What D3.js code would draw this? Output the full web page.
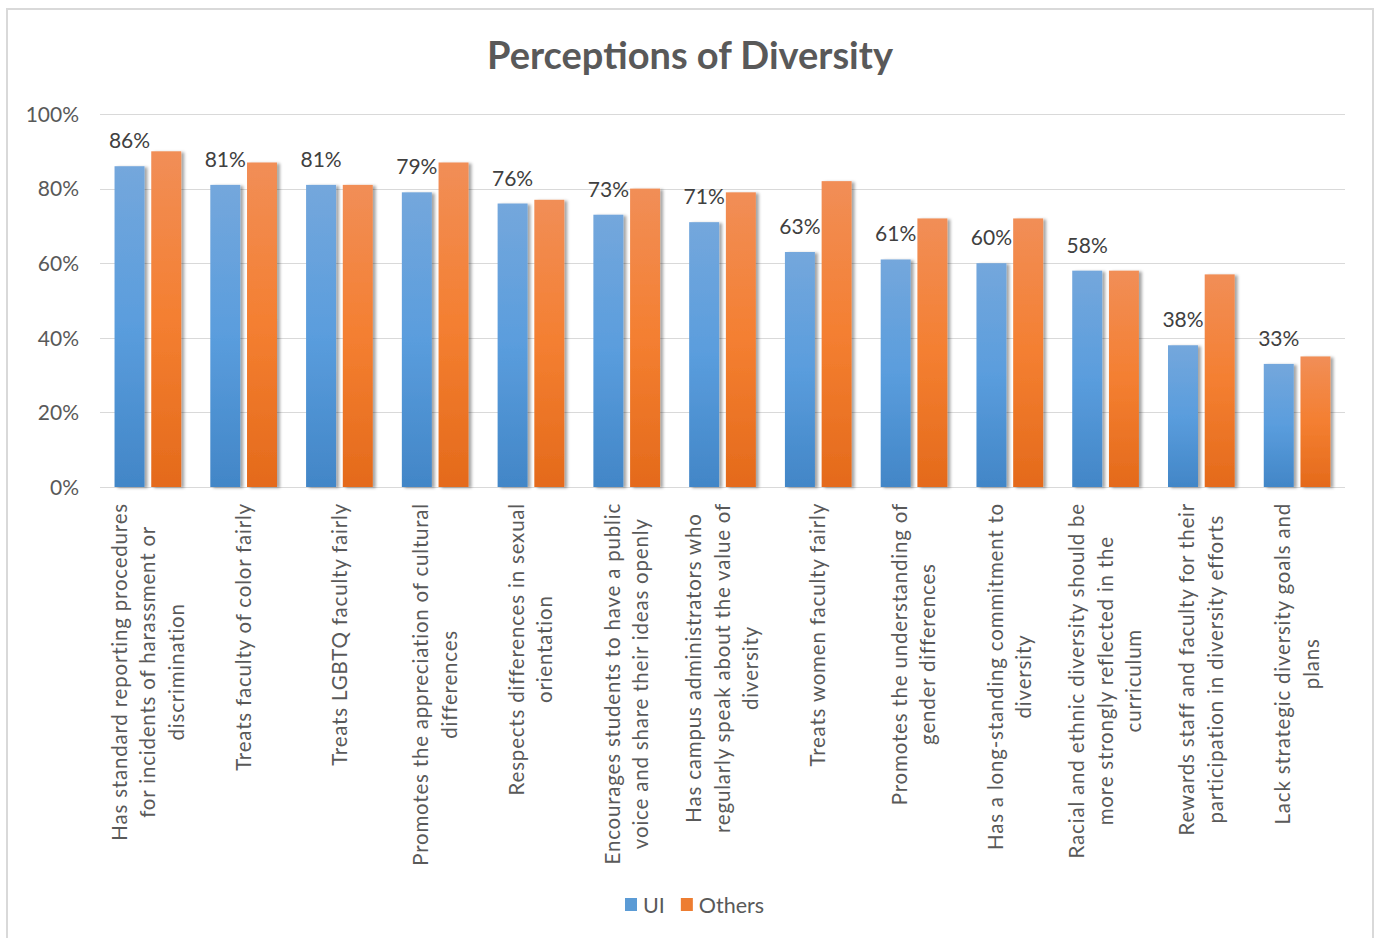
<!DOCTYPE html>
<html>
<head>
<meta charset="utf-8">
<script src="https://cdn.jsdelivr.net/npm/d3@7"></script>
<style>
  html, body { margin: 0; padding: 0; background: #ffffff; }
  svg { display: block; }
  text { font-family: Lato, "Open Sans", sans-serif; }
</style>
</head>
<body>
<svg id="chart" width="1375" height="938"></svg>
<script>
// Survey items (line breaks as wrapped under the axis)
const categories = [
  "Has standard reporting procedures\nfor incidents of harassment or\ndiscrimination",
  "Treats faculty of color fairly",
  "Treats LGBTQ faculty fairly",
  "Promotes the appreciation of cultural\ndifferences",
  "Respects differences in sexual\norientation",
  "Encourages students to have a public\nvoice and share their ideas openly",
  "Has campus administrators who\nregularly speak about the value of\ndiversity",
  "Treats women faculty fairly",
  "Promotes the understanding of\ngender differences",
  "Has a long-standing commitment to\ndiversity",
  "Racial and ethnic diversity should be\nmore strongly reflected in the\ncurriculum",
  "Rewards staff and faculty for their\nparticipation in diversity efforts",
  "Lack strategic diversity goals and\nplans"
];
const seriesNames = ["UI", "Others"];
const uiValues     = [86, 81, 81, 79, 76, 73, 71, 63, 61, 60, 58, 38, 33];
const othersValues = [90, 87, 81, 87, 77, 80, 79, 82, 72, 72, 58, 57, 35];
const yTicks = [0, 20, 40, 60, 80, 100];
const chartTitle = "Perceptions of Diversity";

const svg = d3.select("#chart");

// outer chart border
svg.append("rect")
  .attr("x", 7).attr("y", 9).attr("width", 1366).attr("height", 940)
  .attr("fill", "#ffffff").attr("stroke", "#d9d9d9").attr("stroke-width", 2);

const plot = { left: 100, right: 1345, top: 114, bottom: 487 };

const x0 = d3.scaleBand().domain(d3.range(categories.length))
  .range([plot.left, plot.right]).paddingInner(0).paddingOuter(0);
const x1 = d3.scaleBand().domain(seriesNames)
  .range([0, x0.bandwidth()]).paddingInner(0.183).paddingOuter(0.396);
const y = d3.scaleLinear().domain([0, 100]).range([plot.bottom, plot.top]);

const defs = svg.append("defs");
function grad(id, stops) {
  const g = defs.append("linearGradient").attr("id", id)
    .attr("x1", 0).attr("y1", 0).attr("x2", 0).attr("y2", 1);
  stops.forEach(([o, c]) => g.append("stop").attr("offset", o).attr("stop-color", c));
}
grad("gradUI", [[0, "#74a7dc"], [0.5, "#5a9ddd"], [1, "#4286c7"]]);
grad("gradOthers", [[0, "#f18e57"], [0.5, "#f47f31"], [1, "#e46a1b"]]);
const shadow = defs.append("filter").attr("id", "barShadow")
  .attr("x", "-20%").attr("y", "-5%").attr("width", "150%").attr("height", "110%");
shadow.append("feDropShadow").attr("dx", 3).attr("dy", 1)
  .attr("stdDeviation", 1.4).attr("flood-color", "#000").attr("flood-opacity", 0.35);

// gridlines
svg.append("g").selectAll("line").data(yTicks).join("line")
  .attr("x1", plot.left).attr("x2", plot.right)
  .attr("y1", d => Math.round(y(d)) + 0.5).attr("y2", d => Math.round(y(d)) + 0.5)
  .attr("stroke", "#d9d9d9").attr("stroke-width", 1.2);

// y axis labels
const yAxis = d3.axisLeft(y).tickValues(yTicks).tickSize(0).tickPadding(0)
  .tickFormat(d => d + "%");
const yg = svg.append("g").attr("transform", "translate(79,0)").call(yAxis);
yg.select(".domain").remove();
yg.selectAll("text").attr("font-size", 21).attr("fill", "#595959")
  .attr("font-family", "Lato, sans-serif").attr("dy", "0.35em");

// bars
const seriesData = [uiValues, othersValues];
const fills = ["url(#gradUI)", "url(#gradOthers)"];
const groups = svg.append("g").selectAll("g").data(categories).join("g")
  .attr("transform", (d, i) => `translate(${x0(i)},0)`);
seriesNames.forEach((s, si) => {
  groups.append("rect")
    .attr("x", x1(s))
    .attr("width", x1.bandwidth())
    .attr("y", (d, i) => y(seriesData[si][i]))
    .attr("height", (d, i) => y(0) - y(seriesData[si][i]))
    .attr("fill", fills[si])
    .attr("filter", "url(#barShadow)");
});

// UI value labels
groups.append("text")
  .attr("x", x1("UI") + x1.bandwidth() / 2)
  .attr("y", (d, i) => y(uiValues[i]) - 18)
  .attr("text-anchor", "middle")
  .attr("font-size", 21).attr("fill", "#404040")
  .text((d, i) => uiValues[i] + "%");

// category labels, rotated and wrapped
const lineGap = 28.5;
categories.forEach((c, i) => {
  const lines = c.split("\n");
  const cx = x0(i) + x0.bandwidth() / 2;
  const g = svg.append("g").attr("transform", `translate(${cx},503) rotate(-90)`);
  const texts = lines.map((ln, li) => g.append("text")
    .attr("y", (li - (lines.length - 1) / 2) * lineGap)
    .attr("dy", "0.35em")
    .attr("text-anchor", "middle")
    .attr("font-size", 20.5).attr("letter-spacing", 0.8).attr("fill", "#595959")
    .text(ln));
  const maxLen = d3.max(texts, t => t.node().getComputedTextLength());
  texts.forEach(t => t.attr("x", -maxLen / 2));
});

// title
svg.append("text")
  .attr("x", 690).attr("y", 69)
  .attr("text-anchor", "middle")
  .attr("font-size", 38).attr("font-weight", "bold").attr("fill", "#595959")
  .text(chartTitle);

// legend
const legendColors = ["#5b9bd5", "#ed7d31"];
const legend = svg.append("g").attr("transform", "translate(625,898)");
let lx = 0;
seriesNames.forEach((s, si) => {
  legend.append("rect").attr("x", lx).attr("y", 0).attr("width", 12).attr("height", 13)
    .attr("fill", legendColors[si]);
  const t = legend.append("text").attr("x", lx + 18).attr("y", 7).attr("dy", "0.35em")
    .attr("font-size", 21.5).attr("fill", "#595959").text(s);
  lx += 18 + t.node().getComputedTextLength() + 16;
});
</script>
</body>
</html>
